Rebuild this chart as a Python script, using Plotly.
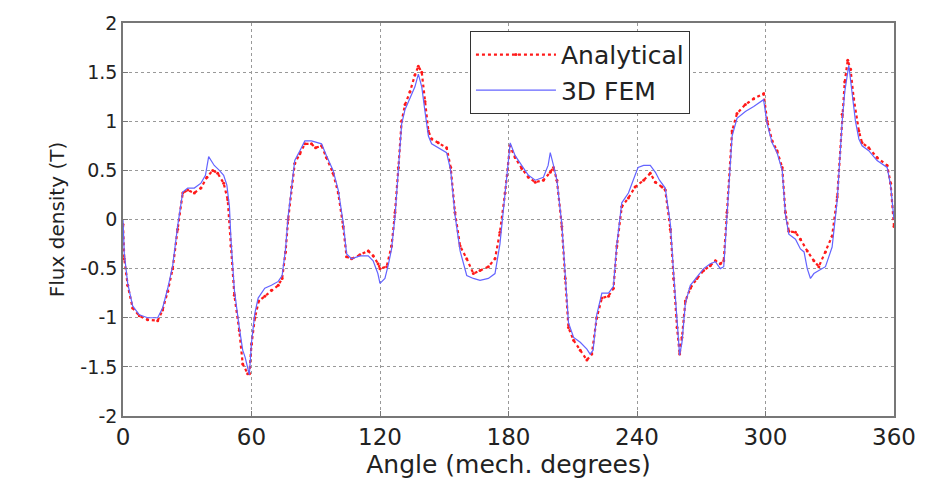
import plotly.graph_objects as go

# Analytical (red dotted)
ana_x = [0, 0.6, 2.2, 4.5, 7.6, 11.5, 16.2, 18.5, 20.9, 23.2, 25.5, 27.9, 30.2, 33.3, 36.4, 39.2, 41.9, 44.2, 47, 48.9,
         50.4, 52, 54.3, 55.9, 58.2, 59,
         60, 61.6, 63.4, 66.2, 69.3, 72.5, 74.3, 75.9, 77.1, 78.7, 80.2, 82.6, 84.9, 88, 89.9, 92.7, 95, 98.1, 100.5,
         102.8, 104.4, 106.7, 110.6, 114.5, 116.8, 119.1,
         120, 123.1, 125.4, 127, 128.6, 130.1, 131.7, 134, 136.3, 137.9, 139.5, 141, 142.6, 144.1, 147.2, 151.1, 153,
         155, 157.4, 160.5, 163.6, 166.7, 170.6, 173.7, 176, 178.4, 180.7,
         183.1, 186.2, 189.3, 192.5, 196.3, 199.5, 201, 202.6, 204.9, 206.5, 208, 210.4, 213.5, 216.6, 218.9, 221.2,
         223.6, 226.7, 229, 230.6, 232.9, 236, 239.1,
         243.1, 246.2, 248.6, 251.7, 253.2, 255.6, 257.1, 258.7, 259.9, 261, 262.6, 264.9, 268, 271.1, 274.2, 276.6,
         278.9, 280.5, 282, 284.4, 286.7, 290.6, 294.5, 299.1,
         300.8, 303.1, 305.4, 307.8, 309.3, 310.9, 314, 316.3, 319.5, 322.6, 324.9, 328, 331.1, 333.5, 335.8, 337,
         338.4, 339.7, 341.2, 343.6, 345.1, 348.2, 352.1, 356.8, 358.4, 360]
ana_y = [-0.05, -0.4, -0.67, -0.9, -0.98, -1.02, -1.03, -0.92, -0.73, -0.5, -0.1, 0.27, 0.3, 0.27, 0.32, 0.43, 0.5, 0.47,
         0.37, 0.2, -0.27, -0.77, -1.13, -1.47, -1.57, -1.57,
         -1.27, -1.0, -0.83, -0.78, -0.72, -0.67, -0.6, -0.33, 0.0, 0.33, 0.57, 0.67, 0.77, 0.77, 0.73, 0.75, 0.63, 0.47,
         0.27, -0.07, -0.38, -0.4, -0.36, -0.32, -0.37, -0.45,
         -0.5, -0.48, -0.27, 0.07, 0.53, 1.0, 1.17, 1.3, 1.47, 1.56, 1.5, 1.2, 0.9, 0.82, 0.78, 0.73, 0.53,
         0.07, -0.27, -0.4, -0.55, -0.52, -0.48, -0.4, -0.13, 0.27, 0.75,
         0.63, 0.52, 0.43, 0.38, 0.4, 0.48, 0.53, 0.4, -0.07, -0.6, -1.1, -1.23, -1.33, -1.43, -1.37, -1.0,
         -0.8, -0.78, -0.7, -0.27, 0.13, 0.22, 0.33,
         0.4, 0.47, 0.38, 0.33, 0.3, -0.1, -0.6, -1.1, -1.37, -1.2, -0.83, -0.7, -0.6, -0.52, -0.47, -0.42,
         -0.45, -0.42, 0.07, 0.9, 1.08, 1.17, 1.23, 1.28,
         1.0, 0.8, 0.7, 0.53, 0.07, -0.12, -0.13, -0.2, -0.32, -0.42, -0.48, -0.33, -0.17, 0.23, 1.07, 1.4,
         1.62, 1.53, 1.23, 0.9, 0.78, 0.73, 0.63, 0.55, 0.37, -0.07]

# 3D FEM (blue solid)
fem_x = [0, 0.6, 2.2, 4.5, 7.6, 11.5, 16.2, 18.5, 20.9, 23.2, 25.5, 27.9, 30.2, 33.3, 36.4, 38.5, 40, 42.6, 45, 47,
         48.5, 49.7, 50.4, 52, 54.3, 55.9, 57, 58, 59,
         60, 61.6, 63.1, 66.2, 69.3, 72.5, 74.3, 75.9, 77.1, 78.7, 80.2, 82.6, 84.9, 88, 91, 92.7, 95, 98.1, 100.5,
         102.8, 104.4, 106.7, 110.6, 114.5, 116.8, 119,
         120, 122.3, 124, 125.4, 127, 128.6, 130.1, 131.7, 134, 136.3, 137.9, 139.5, 141, 142.6, 144.1, 147.2, 151.1,
         153, 155, 157.4, 160.5, 163.6, 166.7, 170.6, 173.7, 176, 178.4, 180.8,
         183.1, 186.2, 189.3, 192.5, 196.3, 198.5, 199.5, 201, 202.6, 204.9, 206.5, 208, 210.4, 213.5, 216.6, 218.1,
         219.5, 221.2, 223.6, 226.7, 229, 230.6, 232.9, 236, 239.1, 240.5,
         243.1, 246.2, 248.6, 250.5, 253.2, 255.6, 257.1, 258.7, 259.9, 261, 262.6, 264.9, 268, 271.1, 274.2, 276.6,
         278.9, 280.5, 282, 284.4, 286.7, 290.6, 294.5, 299.1,
         300.8, 303.1, 305.4, 307.8, 309.3, 310.9, 314, 316.3, 318, 319.5, 321, 322.6, 324.9, 328, 331.1, 333.5,
         335.8, 337, 338.9, 340.5, 342, 343.6, 345.1, 348.2, 352.1, 356.8, 358.4, 360]
fem_y = [0.0, -0.35, -0.65, -0.88, -0.97, -1.0, -1.0, -0.9, -0.7, -0.47, -0.07, 0.28, 0.32, 0.32, 0.37, 0.45, 0.64,
         0.55, 0.5, 0.45, 0.35, 0.13, -0.2, -0.72, -1.1, -1.33, -1.4, -1.5, -1.58,
         -1.25, -0.95, -0.8, -0.7, -0.67, -0.63, -0.57, -0.3, 0.03, 0.35, 0.6, 0.7, 0.8, 0.8, 0.78, 0.77, 0.65, 0.5,
         0.3, -0.03, -0.35, -0.4, -0.37, -0.37, -0.42, -0.55,
         -0.65, -0.6, -0.45, -0.3, 0.03, 0.5, 0.97, 1.12, 1.23, 1.35, 1.48, 1.35, 1.1, 0.85, 0.77, 0.73, 0.68,
         0.5, 0.05, -0.32, -0.57, -0.6, -0.62, -0.6, -0.55, -0.25, 0.25, 0.78,
         0.65, 0.55, 0.45, 0.4, 0.43, 0.55, 0.68, 0.55, 0.4, -0.05, -0.55, -1.05, -1.2, -1.25, -1.32, -1.37,
         -1.33, -0.97, -0.75, -0.75, -0.68, -0.25, 0.17, 0.27, 0.45, 0.53,
         0.55, 0.55, 0.48, 0.4, 0.32, -0.05, -0.55, -1.05, -1.38, -1.25, -0.85, -0.67, -0.58, -0.5, -0.45, -0.43,
         -0.5, -0.48, 0.03, 0.85, 1.03, 1.1, 1.15, 1.22,
         0.97, 0.78, 0.68, 0.5, 0.05, -0.15, -0.2, -0.3, -0.33, -0.5, -0.6, -0.55, -0.52, -0.48, -0.28, 0.2,
         1.0, 1.3, 1.57, 1.3, 1.0, 0.82, 0.75, 0.7, 0.6, 0.53, 0.35, 0.0]

x_ticks = [0, 60, 120, 180, 240, 300, 360]
y_ticks = [-2, -1.5, -1, -0.5, 0, 0.5, 1, 1.5, 2]
y_tick_labels = ["-2", "-1.5", "-1", "-0.5", "0", "0.5", "1", "1.5", "2"]

FONT = "DejaVu Sans"

fig = go.Figure()
fig.add_trace(go.Scatter(
    x=ana_x, y=ana_y, name="Analytical", mode="lines+markers",
    line=dict(color="#ff1a1a", width=2.2, dash="dot"),
    marker=dict(color="#ff1a1a", size=3),
))
fig.add_trace(go.Scatter(
    x=fem_x, y=fem_y, name="3D FEM", mode="lines",
    line=dict(color="#6464ff", width=1.2),
))

fig.update_layout(
    width=931, height=482,
    margin=dict(l=123, r=37, t=22, b=60),
    paper_bgcolor="white", plot_bgcolor="white",
    font=dict(family=FONT, color="#222222"),
    showlegend=True,
    legend=dict(
        x=0.45, y=0.98, xanchor="left", yanchor="top",
        bgcolor="white", bordercolor="#333333", borderwidth=1,
        font=dict(family=FONT, size=25, color="#222222"),
        itemwidth=80, tracegroupgap=0,
    ),
)
fig.update_xaxes(
    range=[0, 360], tickvals=x_ticks, ticktext=[str(v) for v in x_ticks],
    tickfont=dict(family=FONT, size=23, color="#222222"),
    title=dict(text="Angle (mech. degrees)", font=dict(family=FONT, size=25, color="#222222"), standoff=2),
    showgrid=True, gridcolor="#999999", griddash="dot", gridwidth=1,
    showline=True, linecolor="#777777", linewidth=1.5, mirror=True,
    ticks="inside", ticklen=5, tickcolor="#777777", zeroline=False,
)
fig.update_yaxes(
    range=[-2, 2], tickvals=y_ticks, ticktext=y_tick_labels,
    tickfont=dict(family=FONT, size=19, color="#222222"),
    title=dict(text="Flux density (T)", font=dict(family=FONT, size=20, color="#222222"), standoff=10),
    showgrid=True, gridcolor="#999999", griddash="dot", gridwidth=1,
    showline=True, linecolor="#777777", linewidth=1.5, mirror=True,
    ticks="inside", ticklen=5, tickcolor="#777777", zeroline=False,
)

fig.write_html("out.html")
